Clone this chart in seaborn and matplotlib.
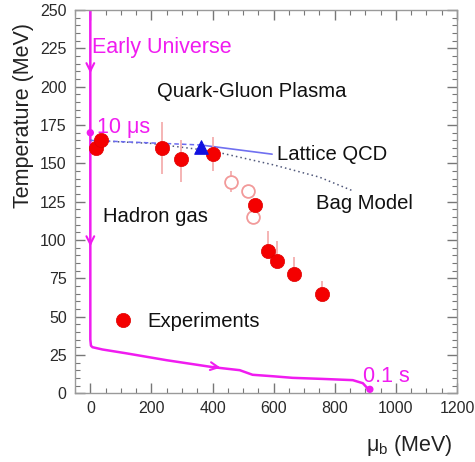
import numpy as np
import pandas as pd
import seaborn as sns
import matplotlib.pyplot as plt
from matplotlib.ticker import MultipleLocator

# experimental freeze-out points (filled)
exp_mu = [20, 36, 236, 298, 400, 538, 580, 610, 666, 757]
exp_T = [160, 165, 160, 153, 156, 123, 93, 86, 78, 65]
exp_err_lo = [0, 0, 17, 15, 11, 3, 0, 0, 0, 0]
exp_err_hi = [0, 0, 17, 12, 11, 3, 13, 13, 11, 8]

# open points
open_mu = [459, 515, 534]
open_T = [138, 132, 115]
open_err = [7, 3, 3]

# lattice QCD
lat_mu = [361]
lat_T = [161]
lat_dash_mu = [0, 361]
lat_dash_T = [165, 162]
lat_line_mu = [361, 595]
lat_line_T = [162, 156]

# bag model
bag_mu = [0, 200, 400, 600, 750, 860]
bag_T = [165, 163, 158, 149, 141, 132]

# early universe trajectory
traj_mu = [0, 0, 2, 7, 40, 118, 250, 400, 489, 531, 600, 662, 760, 859, 892, 908, 915]
traj_T = [250, 35, 31, 30, 28.5, 26, 21.5, 17, 15, 12, 11, 10, 9.3, 8.5, 6.5, 3, 2.5]
arrow_mu = [0, 0, 415]
arrow_T = [211, 98, 17]
arrow_dir = ["down", "down", "right"]

magenta = "#f01cf0"
red = "#f40000"

sns.set_theme(style="ticks")
plt.rcParams["font.family"] = ["Liberation Sans", "DejaVu Sans"]
plt.rcParams["xtick.direction"] = "in"
plt.rcParams["ytick.direction"] = "in"

fig = plt.figure(figsize=(4.75, 4.62), dpi=100)
ax = fig.add_axes([0.158, 0.149, 0.804, 0.829])

# trajectory
sns.lineplot(x=traj_mu, y=traj_T, sort=False, color=magenta, lw=1.8, ax=ax, estimator=None)
for m, t, d in zip(arrow_mu, arrow_T, arrow_dir):
    if d == "down":
        ax.annotate("", xy=(m, t - 4), xytext=(m, t + 4),
                    arrowprops=dict(arrowstyle="->", color=magenta, lw=1.5, mutation_scale=14))
    else:
        ax.annotate("", xy=(m + 20, t - 0.6), xytext=(m - 20, t + 0.6),
                    arrowprops=dict(arrowstyle="->", color=magenta, lw=1.5, mutation_scale=14))
sns.scatterplot(x=[0, 915], y=[170, 2.5], color=magenta, s=28, edgecolor="none", ax=ax, zorder=5)

# bag model and lattice
sns.lineplot(x=bag_mu, y=bag_T, color="#50587a", lw=1.1, linestyle=(0, (1, 2)), ax=ax, estimator=None)
sns.lineplot(x=lat_dash_mu, y=lat_dash_T, color="#6a6af0", lw=1.1, linestyle=(0, (3, 2)), ax=ax, estimator=None)
sns.lineplot(x=lat_line_mu, y=lat_line_T, color="#7070f0", lw=1.2, ax=ax, estimator=None)

# error bars
ax.errorbar(exp_mu, exp_T, yerr=[exp_err_lo, exp_err_hi], fmt="none", ecolor="#f3a8a8", elinewidth=1.2, zorder=3)
ax.errorbar(open_mu, open_T, yerr=open_err, fmt="none", ecolor="#f3a8a8", elinewidth=1.2, zorder=3)

sns.scatterplot(x=open_mu, y=open_T, s=85, facecolor="white", edgecolor="#f29a9a", linewidth=1.3, ax=ax, zorder=4)
sns.scatterplot(x=exp_mu, y=exp_T, s=105, color=red, edgecolor="#e00000", linewidth=0.5, ax=ax, zorder=6)
sns.scatterplot(x=lat_mu, y=lat_T, marker="^", s=95, color="#1010e0", edgecolor="#1010e0", ax=ax, zorder=6)

# legend-like marker
sns.scatterplot(x=[108], y=[48], s=105, color=red, edgecolor="#e00000", linewidth=0.5, ax=ax, zorder=6)

# labels
fs = 14.6
ax.text(5, 222, "Early Universe", color=magenta, fontsize=15.5)
ax.text(218, 193.5, "Quark-Gluon Plasma", color="#111111", fontsize=fs)
ax.text(22, 169.5, "10 \u03bcs", color=magenta, fontsize=15.5)
ax.text(612, 152.5, "Lattice QCD", color="#111111", fontsize=fs)
ax.text(740, 120.5, "Bag Model", color="#111111", fontsize=fs)
ax.text(40, 112, "Hadron gas", color="#111111", fontsize=fs)
ax.text(187, 43, "Experiments", color="#111111", fontsize=fs)
ax.text(893, 7, "0.1 s", color=magenta, fontsize=15.5)

ax.set_xlim(-50, 1200)
ax.set_ylim(0, 250)
ax.xaxis.set_major_locator(MultipleLocator(200))
ax.xaxis.set_minor_locator(MultipleLocator(50))
ax.yaxis.set_major_locator(MultipleLocator(25))
ax.yaxis.set_minor_locator(MultipleLocator(5))
ax.tick_params(axis="both", which="both", direction="in", top=True, right=True, bottom=True, left=True,
               color="#777777", labelsize=11.5, labelcolor="#2a2a2a")
ax.tick_params(axis="both", which="major", length=7, width=1.0, pad=6)
ax.tick_params(axis="both", which="minor", length=3.5, width=0.8)
for s in ax.spines.values():
    s.set_color("#9a9a9a")
    s.set_linewidth(1.0)

ax.set_ylabel("Temperature (MeV)", fontsize=15.5, color="#222222")
ax.yaxis.set_label_coords(-0.107, 0.726)
ax.set_xlabel("\u03bc$_{\\mathregular{b}}$ (MeV)", fontsize=15.5, color="#222222")
ax.xaxis.set_label_coords(0.99, -0.136)
ax.xaxis.label.set_horizontalalignment("right")
ax.xaxis.label.set_verticalalignment("center")

fig.savefig("out.png", dpi=100)
